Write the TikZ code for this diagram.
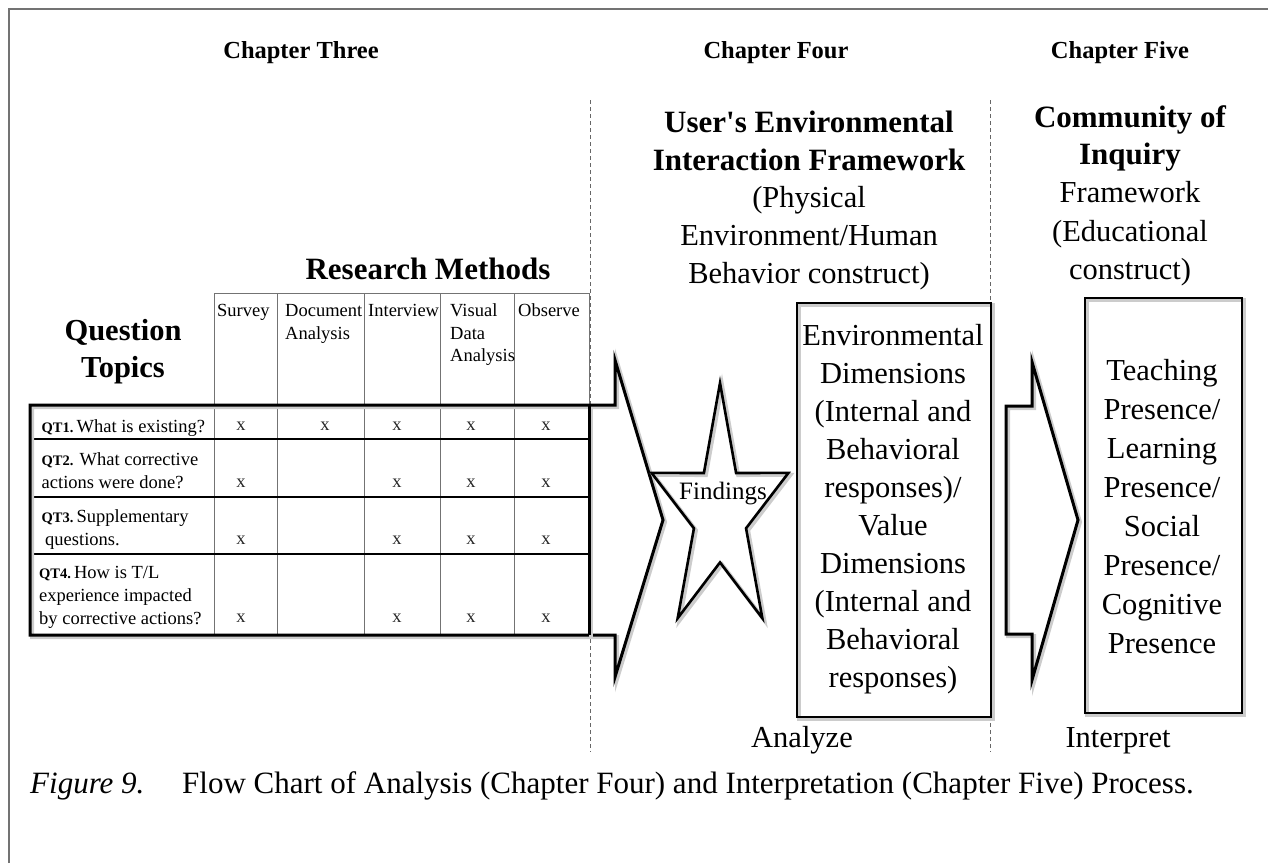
\documentclass[tikz,border=0pt]{standalone}
\usepackage{fontspec}
\setmainfont{Liberation Serif}
\newfontfamily\rawserif{Liberation Serif}
\begin{document}
\begin{tikzpicture}[x=1pt,y=-1pt,
  hdr/.style={font=\bfseries\fontsize{24.5}{28}\selectfont, anchor=base, inner sep=0pt},
  ttl/.style={font=\bfseries\fontsize{31}{36}\selectfont, anchor=base, inner sep=0pt},
  big/.style={font=\fontsize{30.5}{36}\selectfont, anchor=base, inner sep=0pt},
  cell/.style={font=\fontsize{18.5}{22}\selectfont, anchor=base west, inner sep=0pt},
  xmark/.style={font=\fontsize{18.5}{22}\selectfont, anchor=base, inner sep=0pt, text=black!85},
  thinln/.style={draw=black!55, line width=0.9pt},
  rowln/.style={draw=black, line width=2pt},
  shadowed/.style={preaction={draw=black!20, line width=4pt,
      transform canvas={shift={(2pt,-2pt)}}}},
  outln/.style={draw=black, line width=3pt, line join=miter, shadowed},
  boxst/.style={draw=black, line width=2pt, inner sep=0pt, shadowed},
  divider/.style={draw=black!60, line width=0.8pt, dash pattern=on 4pt off 3pt},
  frameln/.style={draw=black!55, line width=2pt}
]
\useasboundingbox (0,0) rectangle (1268,863);

% page frame
\draw[frameln] (9,863) -- (9,9) -- (1268,9);

% chapter dividers
\draw[divider] (590,100) -- (590,752);
\draw[divider] (990,100) -- (990,752);

% chapter headings
\node[hdr] (ch3) at (301,58) {Chapter Three};
\node[hdr] (ch4) at (776,58) {Chapter Four};
\node[hdr] (ch5) at (1120,58) {Chapter Five};

% framework titles
\node[ttl] (uef1) at (809,132) {User{\rawserif'}s Environmental};
\node[ttl] (uef2) at (809,170) {Interaction Framework};
\node[big] (uef3) at (809,207) {(Physical};
\node[big] (uef4) at (809,245) {Environment/Human};
\node[big] (uef5) at (809,283) {Behavior construct)};

\node[ttl] (coi1) at (1130,127) {Community of};
\node[ttl] (coi2) at (1130,164) {Inquiry};
\node[big] (coi3) at (1130,202) {Framework};
\node[big] (coi4) at (1130,241) {(Educational};
\node[big] (coi5) at (1130,279) {construct)};

% table titles
\node[ttl] (rm) at (428,279) {Research Methods};
\node[ttl, font=\bfseries\fontsize{30.5}{36}\selectfont] (qtop1) at (123,340) {Question};
\node[ttl, font=\bfseries\fontsize{30.5}{36}\selectfont] (qtop2) at (123,377) {Topics};

% table header grid
\draw[thinln] (214,293) -- (589,293);
\foreach \cx in {214,277,364,440,514,589}
  \draw[thinln] (\cx,293) -- (\cx,405);
\foreach \cx in {214,277,364,440,514}
  \draw[thinln] (\cx,405) -- (\cx,635);

% method headings
\node[cell] (m1) at (217,316) {Survey};
\node[cell] (m2a) at (285,316) {Document};
\node[cell] (m2b) at (285,339) {Analysis};
\node[cell] (m3) at (368,316) {Interview};
\node[cell] (m4a) at (450,316) {Visual};
\node[cell] (m4b) at (450,339) {Data};
\node[cell] (m4c) at (450,361) {Analysis};
\node[cell] (m5) at (518,316) {Observe};

% row separators
\draw[rowln] (30,439) -- (589,439);
\draw[rowln] (30,497) -- (589,497);
\draw[rowln] (30,554) -- (589,554);

% table outline continued into the block arrow
\draw[outln] (30,405) -- (615,405) -- (615,360) -- (663,520) -- (615,677)
  -- (615,635) -- (30,635) -- cycle;
\draw[outln] (589,405) -- (589,635);

% question topics
\newcommand{\qtlabel}[1]{{\bfseries\fontsize{14.5}{16}\selectfont #1}}
\node[cell] (q1) at (41.5,432) {\qtlabel{QT1.}\,What is existing?};
\node[cell] (q2a) at (41.5,465) {\qtlabel{QT2.} What corrective};
\node[cell] (q2b) at (41.5,488) {actions were done?};
\node[cell] (q3a) at (41.5,522) {\qtlabel{QT3.}\,Supplementary};
\node[cell] (q3b) at (45,545) {questions.};
\node[cell] (q4a) at (39,578) {\qtlabel{QT4.}\,How is T/L};
\node[cell] (q4b) at (39,601) {experience impacted};
\node[cell] (q4c) at (39,624) {by corrective actions?};

% method marks
\foreach \cx [count=\i] in {241,325,397,471,546}
  \node[xmark] (x1\i) at (\cx,430) {x};
\foreach \r/\cy in {2/487,3/544,4/622}
  \foreach \cx [count=\i] in {241,397,471,546}
    \node[xmark] (x\r\i) at (\cx,\cy) {x};

% findings star
\begin{scope}[shift={(720,513)}]
  \draw[outln, line width=2.6pt] (270:72 and 130)
    \foreach \k in {0,...,4} { -- ({306+72*\k}:27.4 and 49.4) -- ({342+72*\k}:72 and 130) } -- cycle;
\end{scope}
\node[big, font=\fontsize{25}{30}\selectfont] (find) at (723,499) {Findings};

% analysis box
\node[boxst, minimum width=194pt, minimum height=414pt] (envbox) at (894,510) {};
\foreach \t [count=\i] in {{Environmental},{Dimensions},{(Internal and},{Behavioral},{responses)/},{Value},{Dimensions},{(Internal and},{Behavioral},{responses)}}
  \node[big] (env\i) at (893,{345+38.1*(\i-1)}) {\t};

% second block arrow
\draw[outln] (1006,406) -- (1032,406) -- (1032,362) -- (1078,520) -- (1032,680)
  -- (1032,634) -- (1006,634) -- cycle;

% interpretation box
\node[boxst, minimum width=157pt, minimum height=415pt] (copbox) at (1163.5,505.5) {};
\foreach \t [count=\i] in {Teaching,Presence/,Learning,Presence/,Social,Presence/,Cognitive,Presence}
  \node[big] (cop\i) at (1162,{380+39*(\i-1)}) {\t};

% stage labels
\node[big] (ana) at (802,747) {Analyze};
\node[big] (intp) at (1118,747) {Interpret};

% caption
\node[big, anchor=base west, font=\itshape\fontsize{31}{36}\selectfont] (figno) at (30,793) {Figure 9.};
\node[big, anchor=base west, font=\fontsize{31}{36}\selectfont] (figcap) at (182,793)
  {Flow Chart of Analysis (Chapter Four) and Interpretation (Chapter Five) Process.};
\end{tikzpicture}
\end{document}
